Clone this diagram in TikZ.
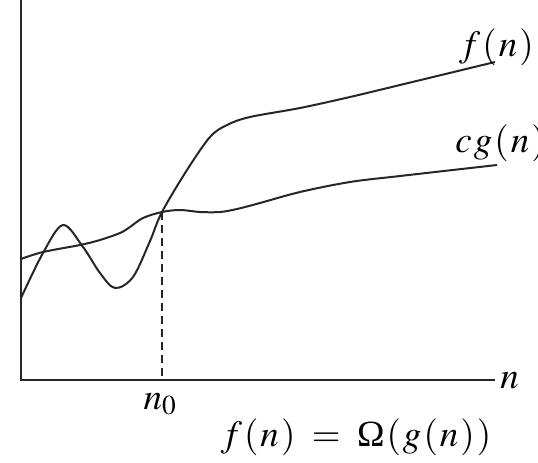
\documentclass[tikz,border=0pt]{standalone}
\usepackage{mathptmx}
\usepackage{fontspec}
\setmainfont{Liberation Serif}
\usetikzlibrary{positioning}

\newcommand{\gap}{\mkern1mu}
\newcommand{\Om}{\mbox{Ω}}

\begin{document}
\begin{tikzpicture}[x=1pt,y=-1pt,semithick]
  \tikzstyle{axis}=[line width=2.2pt,draw=black!85]
  \tikzstyle{curve}=[line width=2pt,draw=black!85,smooth,tension=0.55]
  \tikzstyle{lbl}=[inner sep=0pt,font=\fontsize{37}{44}\selectfont]
  \useasboundingbox (0,0) rectangle (538,463);

  \coordinate (top) at (21,0);
  \coordinate (O)   at (21,380);
  \coordinate (end) at (495,380);
  \coordinate (P)   at (162,212);
  \coordinate (Pn)  at (162,380);

  % axes
  \draw[axis] (top) -- (O) -- (end);
  \draw[line width=1.8pt,draw=black!85,dash pattern=on 8pt off 5pt] (P) -- (Pn);

  % f(n) and cg(n)
  \draw[curve] plot coordinates {(21,298) (43,253) (63,225) (83,247) (100,273)
    (115,288) (133,277) (150,241) (162,212) (187,170) (210,137) (227,125)
    (250,117) (300,108) (350,97) (400,85) (495,62)};
  \draw[curve] plot coordinates {(21,259) (43,252) (80,245) (100,240)
    (120,233) (130,227) (143,218) (162,212) (180,210) (200,212) (220,212)
    (237,209) (260,203) (300,192) (350,182) (400,176) (497,165)};

  % labels
  \node[lbl,anchor=east] (fn) at (534,47) {$f\gap(\gap n\gap)$};
  \node[lbl,anchor=west] (cgn) at (455,143) {$c\gap g\gap(\gap n\gap)$};
  \node[lbl,anchor=west] (xn) at (500,381) {$n$};
  \node[lbl] (n0) at (160,404) {$n_0$};
  \node[lbl] (eq) at (356,437) {$f\gap(\gap n\gap)\mkern4mu=\mkern4mu\Om\gap(\gap g\gap(\gap n\gap)\gap)$};
\end{tikzpicture}
\end{document}
